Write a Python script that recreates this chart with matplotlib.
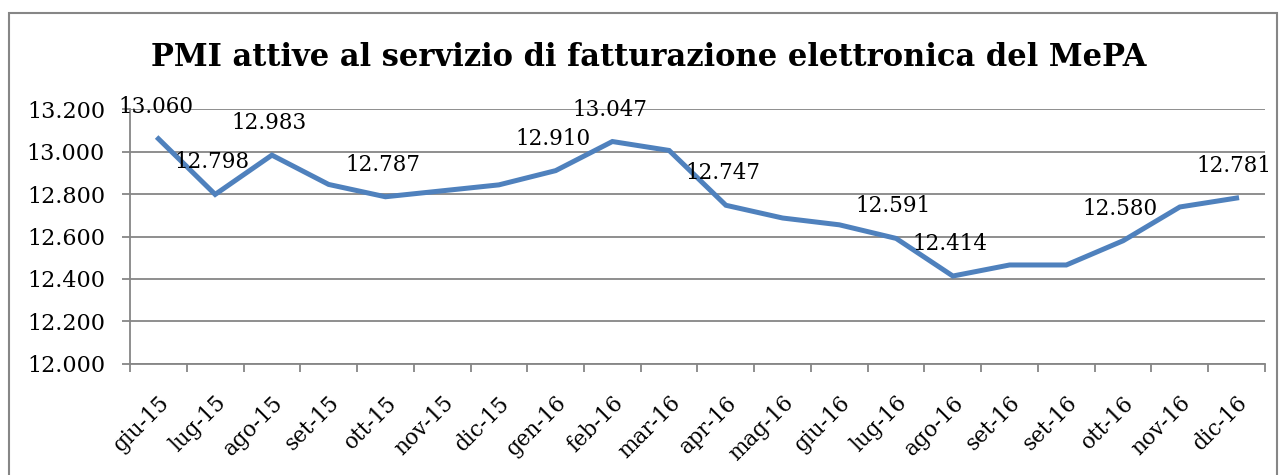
import matplotlib.pyplot as plt
from matplotlib.patches import Rectangle

months = ['giu-15', 'lug-15', 'ago-15', 'set-15', 'ott-15', 'nov-15', 'dic-15',
          'gen-16', 'feb-16', 'mar-16', 'apr-16', 'mag-16', 'giu-16', 'lug-16',
          'ago-16', 'set-16', 'set-16', 'ott-16', 'nov-16', 'dic-16']
pmi = [13060, 12798, 12983, 12845, 12787, 12815, 12843, 12910, 13047, 13005,
       12747, 12687, 12655, 12591, 12414, 12466, 12466, 12580, 12739, 12781]
# points that carry a data label
labelled = [0, 1, 2, 4, 7, 8, 10, 13, 14, 17, 19]
yticks = [12000, 12200, 12400, 12600, 12800, 13000, 13200]


def fmt(v):
    return '{:,}'.format(v).replace(',', '.')


serif = 'DejaVu Serif'
grey = '#868686'

fig = plt.figure(figsize=(12.85, 4.75), dpi=100)
ax = fig.add_axes([0.1012, 0.2337, 0.8832, 0.5368])

# outer chart frame
fig.patches.append(Rectangle((0.007, -0.1), 0.987, 1.072, transform=fig.transFigure,
                             fill=False, edgecolor=grey, linewidth=1.5))

x = list(range(len(months)))
ax.plot(x, pmi, color='#4F81BD', linewidth=3.6, solid_joinstyle='miter', zorder=3)

for i in labelled:
    ax.annotate(fmt(pmi[i]), (x[i], pmi[i]), xytext=(-2, 23), textcoords='offset points',
                ha='center', va='center', fontsize=15.5, family=serif, zorder=4)

ax.set_xlim(-0.5, len(months) - 0.5)
ax.set_ylim(12000, 13200)
ax.set_yticks(yticks)
ax.set_yticklabels([fmt(v) for v in yticks], family=serif, fontsize=16)
ax.yaxis.grid(True, color=grey, linewidth=1.3)
ax.set_axisbelow(True)

ax.set_xticks(x)
ax.set_xticklabels(months, rotation=45, ha='right', rotation_mode='anchor',
                   family=serif, fontsize=15.5)
ax.set_xticks([i - 0.5 for i in range(len(months) + 1)], minor=True)
ax.tick_params(axis='x', which='major', length=0, pad=20)
ax.tick_params(axis='x', which='minor', length=6, color=grey, width=1.3, direction='out')
ax.tick_params(axis='y', length=6, color=grey, width=1.3, pad=12)

for side in ['top', 'right']:
    ax.spines[side].set_visible(False)
for side in ['left', 'bottom']:
    ax.spines[side].set_color(grey)
    ax.spines[side].set_linewidth(1.3)

fig.text(0.505, 0.878, 'PMI attive al servizio di fatturazione elettronica del MePA',
         ha='center', va='center', fontsize=22, fontweight='bold', family=serif)

fig.savefig('out.png', dpi=100)
